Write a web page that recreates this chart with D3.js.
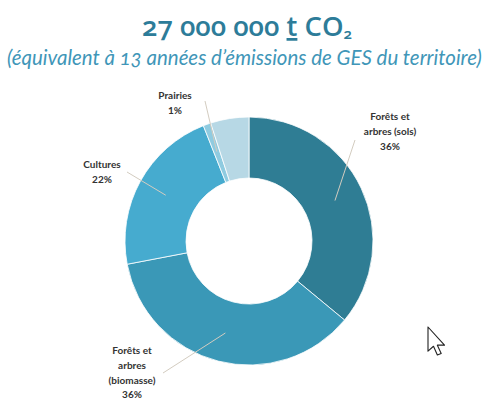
<!DOCTYPE html>
<html>
<head>
<meta charset="utf-8">
<script src="https://cdn.jsdelivr.net/npm/d3@7"></script>
<style>
  html, body { margin: 0; padding: 0; background: #ffffff; }
  svg { display: block; }
  .onum { font-variant-numeric: oldstyle-nums; font-feature-settings: "onum" 1; }
</style>
</head>
<body>
<svg id="chart" width="484" height="401"></svg>
<script>
// Carbon stock by land use, share of the total (%)
const categories = ["Forêts et arbres (sols)", "Forêts et arbres (biomasse)", "Cultures", "Prairies", "Autres"];
const shares = [36, 36, 22, 1, 5];
// Wrapped label text for each slice (empty = unlabelled slice)
const labelLines = [["Forêts et", "arbres (sols)"], ["Forêts et", "arbres", "(biomasse)"], ["Cultures"], ["Prairies"], []];
const sliceColors = ["#2f7d94", "#3a98b7", "#46abcf", "#8fcbe0", "#b7d8e5"];

const titleMain = "27 000 000 ";
const titleUnit = "t";
const titleGas = " CO";
const titleSub = "2";
const subtitle = "(équivalent à 13 années d’émissions de GES du territoire)";

// ---- layout ----
const W = 484, H = 401;
const cx = 249, cy = 241;
const outerR = 124, innerR = 63, leaderR = 95;
const lineStep = 14.8;
// label block anchor (centre x, first baseline y) and leader start, per slice
const labelLayout = [
  { x: 390, y: 120, lx: 355, ly: 140 },
  { x: 132, y: 354, lx: 163, ly: 373 },
  { x: 102, y: 168, lx: 127, ly: 172 },
  { x: 175, y: 99,  lx: 205, ly: 101 },
  null
];

const svg = d3.select("#chart");
svg.append("rect").attr("width", W).attr("height", H).attr("fill", "#ffffff");

// ---- title ----
const title = svg.append("text")
  .attr("class", "onum")
  .attr("x", 247).attr("y", 36)
  .attr("text-anchor", "middle")
  .attr("font-family", "'Open Sans', Lato, sans-serif")
  .attr("font-weight", 600)
  .attr("font-size", 27)
  .attr("fill", "#2d7c99");
title.append("tspan").text(titleMain);
title.append("tspan").text(titleUnit).style("text-decoration", "underline");
title.append("tspan").text(titleGas);
title.append("tspan").text(titleSub);
// scale the title so it spans its target width
(function fit(node, target) {
  const len = node.getComputedTextLength();
  const fs = 27 * target / len;
  d3.select(node).attr("font-size", fs);
  d3.select(node).selectAll("tspan").filter((d, i) => i === 3).attr("font-size", fs * 0.55).attr("dy", fs * 0.12);
})(title.node(), 217);

const sub = svg.append("text")
  .attr("class", "onum")
  .attr("x", 244.5).attr("y", 65)
  .attr("text-anchor", "middle")
  .attr("font-family", "Lato, 'Open Sans', sans-serif")
  .attr("font-style", "italic")
  .attr("font-size", 16)
  .attr("fill", "#4096b8")
  .text(subtitle);
(function fit(node, target) {
  const len = node.getComputedTextLength();
  d3.select(node).attr("font-size", 16 * target / len);
})(sub.node(), 475);

// ---- donut ----
const data = categories.map((c, i) => ({ name: c, value: shares[i], lines: labelLines[i], color: sliceColors[i], layout: labelLayout[i] }));
const pie = d3.pie().sort(null).value(d => d.value);
const arcs = pie(data);
const arc = d3.arc().innerRadius(innerR).outerRadius(outerR);
const mid = d3.arc().innerRadius(leaderR).outerRadius(leaderR);

const g = svg.append("g").attr("transform", `translate(${cx},${cy})`);
g.selectAll("path.slice")
  .data(arcs)
  .join("path")
  .attr("class", "slice")
  .attr("d", arc)
  .attr("fill", d => d.data.color)
  .attr("stroke", "#ffffff")
  .attr("stroke-width", 0.8);

// ---- leader lines ----
const labelled = arcs.filter(d => d.data.layout);
svg.selectAll("line.leader")
  .data(labelled)
  .join("line")
  .attr("class", "leader")
  .attr("x1", d => d.data.layout.lx)
  .attr("y1", d => d.data.layout.ly)
  .attr("x2", d => cx + mid.centroid(d)[0])
  .attr("y2", d => cy + mid.centroid(d)[1])
  .attr("stroke", "#d3ccc0")
  .attr("stroke-width", 1);

// ---- labels ----
const labels = svg.selectAll("text.lbl")
  .data(labelled)
  .join("text")
  .attr("class", "lbl")
  .attr("text-anchor", "middle")
  .attr("font-family", "Lato, 'Open Sans', sans-serif")
  .attr("font-weight", "bold")
  .attr("font-size", 10)
  .attr("fill", "#333333");
labels.each(function (d) {
  const t = d3.select(this);
  const rows = d.data.lines.concat([d.data.value + "%"]);
  rows.forEach((r, i) => {
    t.append("tspan")
      .attr("x", d.data.layout.x)
      .attr("y", d.data.layout.y + i * lineStep)
      .text(r);
  });
});

// ---- mouse pointer ----
svg.append("path")
  .attr("transform", "translate(428,327) scale(1.1)")
  .attr("d", "M0,0 V22 L5,17.5 L8.5,25.5 L12,24 L8.5,16.5 L15,16.5 Z")
  .attr("fill", "#ffffff")
  .attr("stroke", "#222222")
  .attr("stroke-width", 1)
  .attr("stroke-linejoin", "round");
</script>
</body>
</html>
